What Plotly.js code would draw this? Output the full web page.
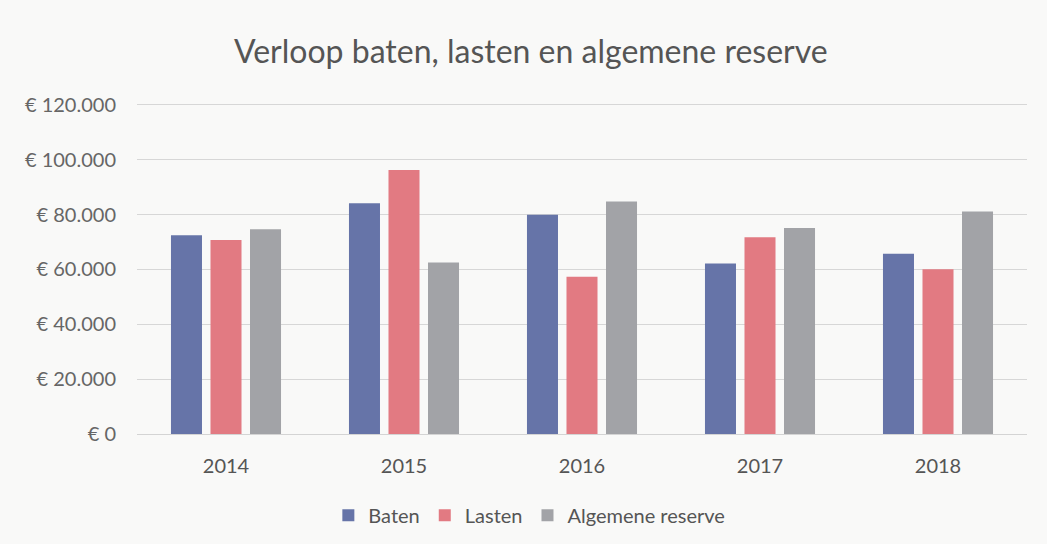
<!DOCTYPE html>
<html><head><meta charset="utf-8">
<script src="https://cdn.plot.ly/plotly-3.0.1.min.js"></script>
<style>html,body{margin:0;padding:0;background:#f9f9f8;}</style>
</head><body>
<div id="chart" style="width:1047px;height:544px;"></div>
<script>
const years = ['2014', '2015', '2016', '2017', '2018'];
const baten = [72400, 84100, 79900, 62100, 65700];
const lasten = [70700, 96200, 57300, 71700, 60000];
const reserve = [74600, 62500, 84700, 75100, 81100];
const tickVals = [0, 20000, 40000, 60000, 80000, 100000, 120000];
const tickLabels = ['€ 0', '€ 20.000', '€ 40.000', '€ 60.000', '€ 80.000', '€ 100.000', '€ 120.000'];

const traces = [
  {type: 'bar', name: 'Baten', x: years, y: baten, marker: {color: '#6674a8'}},
  {type: 'bar', name: 'Lasten', x: years, y: lasten, marker: {color: '#e27a82'}},
  {type: 'bar', name: 'Algemene reserve', x: years, y: reserve, marker: {color: '#a2a3a7'}}
];
const layout = {
  width: 1047, height: 544,
  paper_bgcolor: '#f9f9f8', plot_bgcolor: '#f9f9f8',
  margin: {l: 137, r: 20, t: 102, b: 110},
  font: {family: 'Lato, "Open Sans", sans-serif', color: '#5f5f5f', size: 20},
  title: {text: 'Verloop baten, lasten en algemene reserve', x: 0.507, xanchor: 'center', y: 0.905, yanchor: 'middle',
          font: {size: 32, color: '#555555', family: 'Lato, "Open Sans", sans-serif'}},
  barmode: 'group', bargap: 0.334, bargroupgap: 0.215,
  xaxis: {type: 'category', showgrid: false, showline: true, linecolor: '#d4d4d4', linewidth: 1,
          ticks: '', tickfont: {size: 20, color: '#555'}, ticklabelstandoff: 14},
  yaxis: {range: [0, 121000], tickvals: tickVals, ticktext: tickLabels, showgrid: true,
          gridcolor: '#d7d7d7', gridwidth: 1, zeroline: false, showline: false, ticks: '',
          tickfont: {size: 20, color: '#666'}, ticklabelstandoff: 20},
  legend: {orientation: 'h', x: 0.215, xanchor: 'left', yref: 'container', y: 0.053, yanchor: 'middle',
           font: {size: 20, color: '#555'}, itemwidth: 30, traceorder: 'normal'},
  showlegend: true
};
Plotly.newPlot('chart', traces, layout, {displayModeBar: false, staticPlot: true});
</script>
</body></html>
